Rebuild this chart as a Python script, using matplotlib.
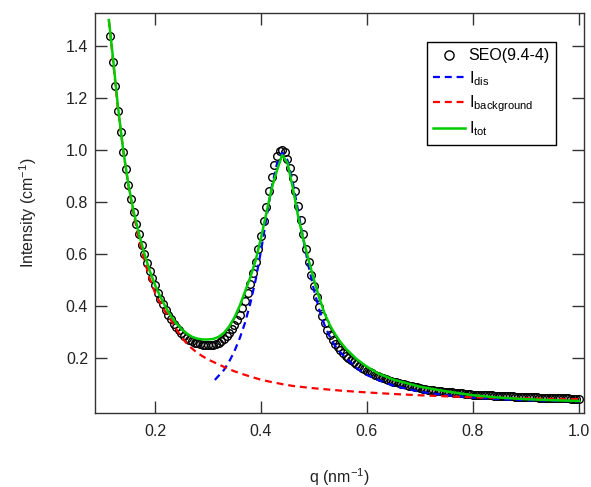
import matplotlib
matplotlib.use('Agg')
import matplotlib.pyplot as plt

plt.rcParams['font.family'] = ['Liberation Sans', 'DejaVu Sans']
plt.rcParams['mathtext.default'] = 'regular'
plt.rcParams['lines.scale_dashes'] = False

# measured data SEO(9.4-4)
q_data = [0.115, 0.120, 0.125, 0.130, 0.135, 0.140, 0.145, 0.150, 0.155, 0.160,
          0.165, 0.170, 0.175, 0.180, 0.185, 0.190, 0.195, 0.200, 0.205, 0.210,
          0.215, 0.220, 0.225, 0.230, 0.235, 0.240, 0.245, 0.250, 0.255, 0.260,
          0.265, 0.270, 0.275, 0.280, 0.285, 0.290, 0.295, 0.300, 0.305, 0.310,
          0.315, 0.320, 0.325, 0.330, 0.335, 0.340, 0.345, 0.350, 0.355, 0.360,
          0.365, 0.370, 0.375, 0.380, 0.385, 0.390, 0.395, 0.400, 0.405, 0.410,
          0.415, 0.420, 0.425, 0.430, 0.435, 0.440, 0.445, 0.450, 0.455, 0.460,
          0.465, 0.470, 0.475, 0.480, 0.485, 0.490, 0.495, 0.500, 0.505, 0.510,
          0.515, 0.520, 0.525, 0.530, 0.535, 0.540, 0.545, 0.550, 0.555, 0.560,
          0.565, 0.570, 0.575, 0.580, 0.585, 0.590, 0.595, 0.600,
          0.605, 0.610, 0.615, 0.620, 0.625, 0.630, 0.635, 0.640, 0.645, 0.650,
          0.655, 0.660, 0.665, 0.670, 0.675, 0.680, 0.685, 0.690, 0.695, 0.700,
          0.705, 0.710, 0.715, 0.720, 0.725, 0.730, 0.735, 0.740, 0.745, 0.750,
          0.755, 0.760, 0.765, 0.770, 0.775, 0.780, 0.785, 0.790, 0.795, 0.800,
          0.805, 0.810, 0.815, 0.820, 0.825, 0.830, 0.835, 0.840, 0.845, 0.850,
          0.855, 0.860, 0.865, 0.870, 0.875, 0.880, 0.885, 0.890, 0.895, 0.900,
          0.905, 0.910, 0.915, 0.920, 0.925, 0.930, 0.935, 0.940, 0.945, 0.950,
          0.955, 0.960, 0.965, 0.970, 0.975, 0.980, 0.985, 0.990, 0.995, 1.000]
i_data = [1.44, 1.34, 1.245, 1.15, 1.07, 0.99, 0.925, 0.865, 0.81, 0.76,
          0.715, 0.675, 0.635, 0.60, 0.565, 0.535, 0.505, 0.478, 0.45, 0.427,
          0.405, 0.385, 0.365, 0.347, 0.331, 0.317, 0.305, 0.294, 0.284, 0.276,
          0.269, 0.263, 0.258, 0.255, 0.252, 0.25, 0.248, 0.248, 0.249, 0.25,
          0.253, 0.258, 0.265, 0.273, 0.283, 0.296, 0.311, 0.327, 0.345, 0.366,
          0.39, 0.418, 0.45, 0.485, 0.525, 0.57, 0.62, 0.67, 0.725, 0.78,
          0.84, 0.895, 0.94, 0.975, 0.995, 1.0, 0.99, 0.965, 0.93, 0.89,
          0.84, 0.785, 0.73, 0.675, 0.62, 0.568, 0.52, 0.475, 0.433, 0.395,
          0.362, 0.333, 0.308, 0.287, 0.269, 0.254, 0.241, 0.229, 0.218, 0.208,
          0.199, 0.19, 0.182, 0.175, 0.168, 0.161, 0.155, 0.15,
          0.145, 0.14, 0.135, 0.131, 0.127, 0.123, 0.119, 0.115, 0.111, 0.108,
          0.105, 0.102, 0.099, 0.097, 0.094, 0.092, 0.089, 0.087, 0.085, 0.083,
          0.081, 0.079, 0.077, 0.076, 0.074, 0.073, 0.071, 0.070, 0.069, 0.068,
          0.067, 0.066, 0.065, 0.064, 0.063, 0.062, 0.061, 0.060, 0.059, 0.058,
          0.058, 0.057, 0.057, 0.056, 0.056, 0.055, 0.055, 0.054, 0.054, 0.053,
          0.053, 0.052, 0.052, 0.051, 0.051, 0.050, 0.050, 0.049, 0.049, 0.048,
          0.048, 0.047, 0.047, 0.047, 0.046, 0.046, 0.046, 0.045, 0.045, 0.045,
          0.044, 0.044, 0.044, 0.043, 0.043, 0.043, 0.042, 0.042, 0.042, 0.042]

# fit components
q_dis = [0.313, 0.32, 0.33, 0.34, 0.35, 0.36, 0.37, 0.38, 0.39, 0.40,
         0.41, 0.42, 0.43, 0.44, 0.45, 0.46, 0.47, 0.48, 0.49, 0.50,
         0.51, 0.52, 0.53, 0.54, 0.55, 0.56, 0.58, 0.60, 0.62, 0.65,
         0.70, 0.75, 0.80, 0.85, 0.90, 0.95, 1.00]
i_dis = [0.114, 0.13, 0.152, 0.185, 0.225, 0.275, 0.335, 0.41, 0.50, 0.61,
         0.735, 0.855, 0.945, 0.99, 0.96, 0.875, 0.765, 0.655, 0.55, 0.46,
         0.385, 0.325, 0.28, 0.245, 0.22, 0.2, 0.16, 0.133, 0.115, 0.092,
         0.068, 0.055, 0.046, 0.04, 0.036, 0.034, 0.032]

q_bg = [0.113, 0.12, 0.13, 0.14, 0.15, 0.16, 0.17, 0.18, 0.19, 0.20,
        0.21, 0.22, 0.23, 0.24, 0.25, 0.26, 0.27, 0.28, 0.29, 0.30,
        0.32, 0.34, 0.36, 0.38, 0.40, 0.42, 0.44, 0.46, 0.50, 0.55,
        0.60, 0.65, 0.70, 0.75, 0.80, 0.85, 0.90, 0.95, 1.00]
i_bg = [1.50, 1.36, 1.16, 1.00, 0.86, 0.75, 0.655, 0.575, 0.505, 0.45,
        0.41, 0.375, 0.345, 0.31, 0.278, 0.255, 0.235, 0.218, 0.205, 0.193,
        0.174, 0.155, 0.14, 0.127, 0.115, 0.106, 0.098, 0.091, 0.082, 0.073,
        0.066, 0.06, 0.055, 0.051, 0.047, 0.045, 0.043, 0.041, 0.040]

q_tot = [0.113, 0.12, 0.13, 0.14, 0.15, 0.16, 0.17, 0.18, 0.19, 0.20,
         0.21, 0.22, 0.23, 0.24, 0.25, 0.26, 0.27, 0.28, 0.29, 0.30,
         0.31, 0.32, 0.33, 0.34, 0.35, 0.36, 0.37, 0.38, 0.39, 0.40,
         0.41, 0.42, 0.43, 0.44, 0.45, 0.46, 0.47, 0.48, 0.49, 0.50,
         0.51, 0.52, 0.53, 0.54, 0.55, 0.56, 0.58, 0.60, 0.62, 0.65,
         0.70, 0.75, 0.80, 0.85, 0.90, 0.95, 1.00]
i_tot = [1.50, 1.37, 1.17, 1.00, 0.865, 0.76, 0.675, 0.60, 0.535, 0.48,
         0.435, 0.395, 0.36, 0.333, 0.31, 0.293, 0.28, 0.273, 0.27, 0.27,
         0.272, 0.28, 0.295, 0.32, 0.355, 0.40, 0.455, 0.51, 0.575, 0.66,
         0.755, 0.85, 0.92, 0.98, 0.95, 0.855, 0.745, 0.655, 0.575, 0.50,
         0.43, 0.37, 0.325, 0.29, 0.26, 0.235, 0.195, 0.165, 0.14, 0.115,
         0.088, 0.07, 0.055, 0.046, 0.04, 0.036, 0.033]

fig = plt.figure(figsize=(5.91, 4.87), dpi=100)
ax = fig.add_axes([0.1607, 0.1526, 0.8274, 0.8201])

ax.plot(q_data, i_data, 'o', markersize=5.5, markerfacecolor='none',
        markeredgecolor='black', markeredgewidth=1.0, label='SEO(9.4-4)')
ax.plot(q_dis, i_dis, color='#0000ff', linewidth=1.6, dashes=(5, 3.5),
        label=r'$I_{dis}$')
ax.plot(q_bg, i_bg, color='#ff0000', linewidth=1.6, dashes=(5, 3.5),
        label=r'$I_{background}$')
ax.plot(q_tot, i_tot, color='#00cc00', linewidth=1.8, label=r'$I_{tot}$')

ax.set_xlim(0.0868, 1.0094)
ax.set_ylim(-0.012, 1.526)
ax.set_xticks([0.2, 0.4, 0.6, 0.8, 1.0])
ax.set_yticks([0.2, 0.4, 0.6, 0.8, 1.0, 1.2, 1.4])
ax.set_xticklabels(['0.2', '0.4', '0.6', '0.8', '1.0'])
ax.set_yticklabels(['0.2', '0.4', '0.6', '0.8', '1.0', '1.2', '1.4'])

ax.tick_params(direction='in', length=8.5, width=1, color='#333333',
               top=True, right=True, labelsize=11.5, labelcolor='#222222')
ax.tick_params(axis='x', pad=8)
ax.tick_params(axis='y', pad=5)
for sp in ax.spines.values():
    sp.set_color('#333333')
    sp.set_linewidth(1)

ax.set_xlabel(r'q (nm$^{-1}$)', fontsize=11.5, color='#222222')
ax.set_ylabel(r'Intensity (cm$^{-1}$)', fontsize=11.5, color='#222222')
ax.xaxis.set_label_coords(0.5, -0.133)
ax.yaxis.set_label_coords(-0.115, 0.5)

leg = ax.legend(loc='upper left', bbox_to_anchor=(0.679, 0.928),
                borderaxespad=0, fontsize=11.5, fancybox=False,
                framealpha=1, edgecolor='black', handlelength=2.0,
                handletextpad=0.2, labelspacing=0.35, borderpad=0.4,
                markerscale=1.2)
leg.get_frame().set_linewidth(1)

plt.savefig('out.png', dpi=100)
